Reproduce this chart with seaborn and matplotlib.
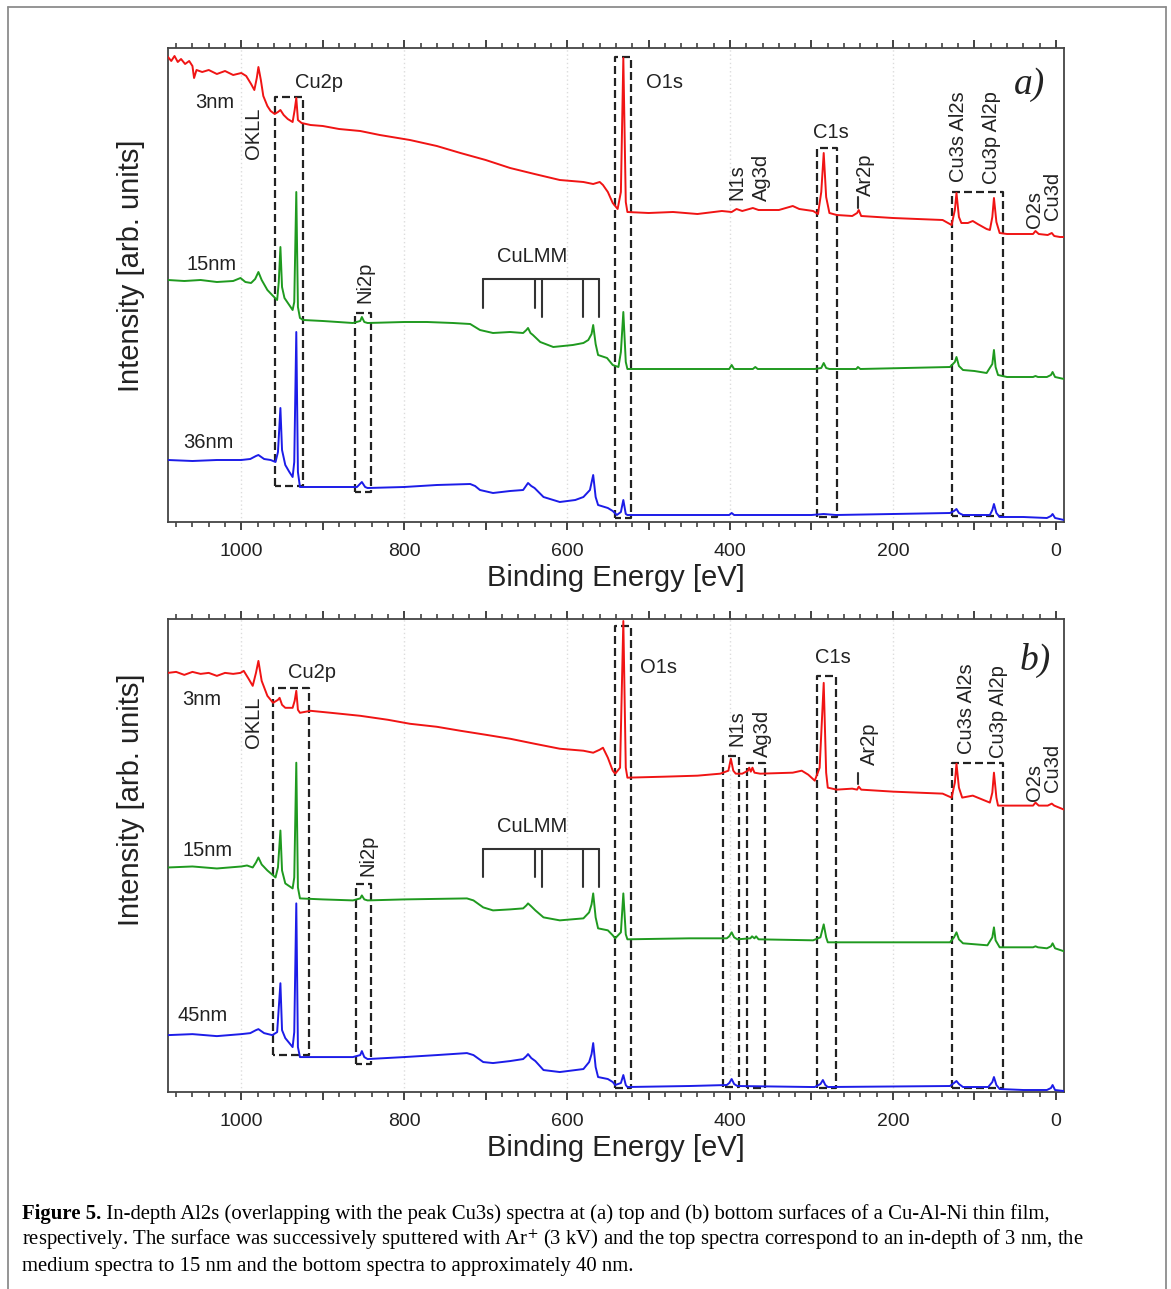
import numpy as np
import pandas as pd
import matplotlib
matplotlib.use("Agg")
import matplotlib.pyplot as plt
import seaborn as sns
from matplotlib.ticker import MultipleLocator, FuncFormatter
from matplotlib.lines import Line2D

# ---------------------------------------------------------------------------
# DATA  (binding energy [eV], intensity [arb. units])
# ---------------------------------------------------------------------------
# panel a) top surface
A_3NM = np.array([
    (1090, 465), (1086, 461), (1082, 466), (1078, 460), (1074, 463), (1069, 458),
    (1064, 461), (1060, 456), (1058, 444), (1055, 452), (1048, 450), (1040, 452),
    (1030, 448), (1020, 451), (1010, 447), (1000, 449), (994, 446), (988, 438),
    (984, 432), (981, 444), (979, 455), (976, 442), (973, 426), (968, 416),
    (964, 411), (959, 408), (955, 410), (952, 412), (948, 407), (943, 403),
    (937, 400), (934.5, 412), (932.5, 424), (930.5, 402), (926, 399), (915, 397),
    (900, 396), (880, 393), (854, 391), (830, 387), (793, 382), (760, 376),
    (731, 369), (700, 362), (670, 354), (640, 348), (609, 342), (580, 340),
    (568, 338), (560, 340), (556, 337), (550, 330), (544, 319), (538, 313),
    (534, 330), (531, 464), (528, 320), (526, 310), (500, 309), (470, 310),
    (440, 308), (410, 311), (398, 310), (392, 313), (385, 311), (372, 314),
    (365, 312), (340, 312), (323, 316), (315, 313), (298, 311), (292, 308),
    (288, 330), (285, 369), (282, 325), (278, 309), (269, 307), (250, 306),
    (244, 309), (242, 312), (239, 306), (200, 304), (170, 303), (139, 302),
    (128, 297), (124, 312), (122, 329), (119, 305), (116, 299), (108, 299),
    (102, 301), (96, 298), (85, 293), (81, 292), (78, 305), (76, 324),
    (73, 300), (69, 289), (60, 288), (40, 288), (28, 288), (25, 291),
    (21, 288), (10, 287), (5, 289), (2, 286), (-5, 285), (-10, 285)])

A_15NM = np.array([
    (1090, 242), (1070, 241), (1050, 242), (1030, 240), (1010, 241), (1001, 244),
    (995, 240), (988, 239), (983, 243), (979, 250), (975, 242), (968, 232),
    (961, 226), (956, 222), (954, 240), (952, 275), (950, 235), (947, 224),
    (942, 218), (937, 212), (935, 220), (932.5, 330), (930.5, 215), (928, 204),
    (924, 202), (900, 201), (863, 199), (854, 201), (852, 205), (849, 200),
    (845, 199), (800, 200), (772, 200), (740, 199), (719, 198), (713, 195),
    (707, 192), (691, 189), (670, 190), (654, 189), (650, 192), (648, 194),
    (645, 189), (642, 187), (633, 180), (617, 175), (593, 177), (580, 179),
    (574, 182), (570, 188), (568, 197), (565, 178), (562, 167), (551, 164),
    (544, 157), (537, 155), (534, 170), (531, 210), (528, 160), (526, 153),
    (450, 153), (401, 153), (398, 157), (395, 153), (372, 153), (369, 155),
    (366, 153), (296, 153), (288, 154), (285, 159), (282, 154), (278, 153),
    (245, 153), (243, 155), (240, 153), (130, 155), (124, 160), (122, 165),
    (119, 156), (114, 152), (100, 151), (85, 149), (78, 158), (76, 172),
    (74, 155), (71, 147), (60, 145), (28, 145), (25, 146), (22, 145),
    (11, 145), (6, 147), (4, 150), (1, 145), (-10, 143)])

A_36NM = np.array([
    (1090, 62), (1060, 61), (1030, 62), (1000, 62), (989, 63), (982, 66),
    (979, 67), (972, 63), (964, 62), (958, 60), (955, 70), (952, 114),
    (950, 72), (946, 57), (941, 50), (937, 45), (935, 60), (932.5, 190),
    (930.5, 50), (928, 35), (900, 35), (858, 35), (852, 40), (848, 35),
    (845, 34), (800, 35), (760, 37), (719, 38), (713, 36), (707, 32),
    (691, 29), (670, 31), (654, 32), (648, 39), (644, 36), (640, 34),
    (629, 25), (609, 20), (590, 22), (580, 25), (572, 32), (568, 47),
    (565, 25), (562, 17), (550, 14), (544, 11), (539, 7), (534, 10),
    (531, 22), (528, 8), (526, 7), (450, 7), (401, 7), (398, 9),
    (395, 7), (300, 7), (285, 8), (270, 7), (130, 9), (125, 11),
    (122, 13), (119, 9), (114, 7), (81, 7), (78, 12), (76, 18),
    (73, 9), (69, 5), (40, 5), (11, 4), (6, 6), (4, 8), (1, 4), (-10, 2)])

# panel b) bottom surface
B_3NM = np.array([
    (1090, 420), (1080, 421), (1070, 418), (1060, 421), (1050, 419), (1040, 420),
    (1030, 417), (1020, 420), (1010, 419), (1001, 420), (997, 422), (991, 414),
    (986, 407), (982, 420), (979, 432), (975, 412), (968, 397), (961, 390),
    (955, 393), (953, 395), (950, 388), (946, 385), (937, 385), (934.5, 392),
    (932.5, 402), (930.5, 383), (928, 380), (915, 382), (890, 380), (854, 377),
    (820, 373), (793, 369), (760, 366), (731, 362), (700, 358), (670, 354),
    (640, 349), (609, 344), (580, 342), (568, 340), (560, 343), (556, 345),
    (550, 335), (544, 322), (541, 319), (535, 325), (531, 472), (528, 325),
    (526, 315), (480, 316), (440, 317), (412, 319), (402, 322), (399, 334),
    (396, 322), (393, 319), (385, 319), (378, 322), (376.5, 325), (374.5, 321),
    (372.5, 325), (370, 320), (363, 319), (323, 320), (312, 322), (304, 318),
    (296, 312), (290, 325), (285, 410), (282, 320), (280, 305), (269, 303),
    (250, 304), (244, 303), (242, 306), (239, 303), (200, 301), (170, 300),
    (139, 299), (128, 295), (124, 310), (122, 329), (119, 305), (115, 295),
    (102, 297), (90, 293), (81, 290), (78, 300), (76, 320), (73, 295),
    (71, 287), (50, 287), (28, 287), (25, 290), (21, 287), (10, 287),
    (5, 289), (2, 287), (-10, 283)])

B_15NM = np.array([
    (1090, 225), (1060, 226), (1030, 224), (1000, 226), (993, 227), (986, 225),
    (982, 230), (979, 235), (975, 228), (968, 222), (958, 215), (955, 225),
    (952, 262), (950, 222), (946, 209), (937, 204), (935, 215), (932.5, 330),
    (930.5, 205), (928, 194), (900, 193), (863, 192), (854, 194), (852, 197),
    (849, 193), (845, 192), (800, 193), (723, 194), (715, 192), (703, 185),
    (691, 182), (670, 183), (654, 184), (650, 187), (648, 189), (644, 186),
    (639, 182), (629, 175), (609, 172), (580, 174), (573, 180), (570, 188),
    (568, 199), (565, 175), (562, 164), (550, 162), (544, 157), (541, 154),
    (534, 160), (531, 199), (528, 158), (526, 153), (450, 154), (404, 154),
    (401, 156), (398, 160), (395, 155), (391, 153), (375, 154), (373, 156),
    (370, 154), (368, 156), (365, 153), (298, 152), (289, 155), (285, 168),
    (282, 155), (280, 150), (200, 150), (130, 150), (125, 155), (122, 160),
    (119, 153), (114, 149), (84, 147), (78, 155), (76, 165), (74, 152),
    (69, 145), (28, 145), (25, 146), (22, 145), (11, 144), (6, 146),
    (4, 149), (1, 144), (-10, 141)])

B_45NM = np.array([
    (1090, 57), (1060, 58), (1030, 56), (1000, 58), (989, 59), (982, 62),
    (979, 63), (972, 59), (962, 57), (956, 60), (952, 109), (950, 62),
    (946, 54), (937, 45), (935, 60), (932.5, 189), (930.5, 45), (928, 35),
    (900, 35), (863, 35), (854, 37), (852, 41), (849, 35), (845, 33),
    (800, 35), (760, 37), (723, 39), (715, 37), (703, 30), (691, 29),
    (670, 31), (654, 33), (650, 36), (648, 38), (644, 34), (639, 31),
    (629, 22), (609, 20), (580, 23), (573, 30), (570, 38), (568, 49),
    (565, 25), (562, 15), (550, 13), (544, 10), (541, 7), (534, 9),
    (531, 17), (528, 7), (526, 5), (450, 6), (404, 7), (401, 9),
    (398, 13), (395, 8), (391, 6), (300, 5), (296, 5), (289, 8),
    (286, 12), (283, 7), (280, 5), (130, 6), (125, 9), (122, 11),
    (119, 8), (114, 5), (83, 5), (78, 10), (76, 15), (73, 7),
    (69, 3), (40, 2), (11, 2), (6, 4), (4, 7), (1, 2), (-10, 1)])

DEPTHS_A = ["3nm", "15nm", "36nm"]
DEPTHS_B = ["3nm", "15nm", "45nm"]
X_LABELED = [1000, 800, 600, 400, 200, 0]
CULMM_E = [703, 639, 631, 580, 561]
CAPTION = [
    ("Figure 5.", " In-depth Al2s (overlapping with the peak Cu3s) spectra at (a) top and (b) bottom surfaces of a Cu-Al-Ni thin film,"),
    ("", "respectively. The surface was successively sputtered with Ar$^{+}$ (3 kV) and the top spectra correspond to an in-depth of 3 nm, the"),
    ("", "medium spectra to 15 nm and the bottom spectra to approximately 40 nm."),
]

# ---------------------------------------------------------------------------
# STYLE / LAYOUT
# ---------------------------------------------------------------------------
sns.set_theme(style="white")
plt.rcParams["font.family"] = ["Liberation Sans", "DejaVu Sans"]
plt.rcParams["mathtext.fontset"] = "stix"

W, H = 1171, 1289
fig = plt.figure(figsize=(W / 100, H / 100), dpi=100)
fig.patch.set_facecolor("white")

COL = {"3nm": "#f01414", "15nm": "#1f9a1f", "36nm": "#1c1ce8", "45nm": "#1c1ce8"}
TXT = "#222222"
LAB_FS = 14.5


def make_df(arrs, names):
    parts = []
    for arr, nm in zip(arrs, names):
        parts.append(pd.DataFrame({"E": arr[:, 0], "I": arr[:, 1], "depth": nm}))
    return pd.concat(parts, ignore_index=True)


def style_axes(ax, ylab_y):
    ax.set_xlim(1090, -10)
    ax.set_ylim(0, 474)
    ax.xaxis.set_major_locator(MultipleLocator(100))
    ax.xaxis.set_minor_locator(MultipleLocator(20))
    ax.xaxis.set_major_formatter(FuncFormatter(
        lambda v, p: f"{int(round(v))}" if int(round(v)) in X_LABELED else ""))
    ax.tick_params(axis="x", which="major", direction="out", length=6, width=1.3,
                   color="#333333", top=True, bottom=True, labeltop=False,
                   labelsize=14, pad=9, labelcolor=TXT)
    ax.tick_params(axis="x", which="minor", direction="out", length=3.5, width=1.1,
                   color="#333333", top=True, bottom=True)
    ax.set_yticks([])
    for s in ax.spines.values():
        s.set_color("#444444")
        s.set_linewidth(1.3)
    for e in X_LABELED[:-1]:
        ax.axvline(e, color="#dcdcdc", ls=(0, (1, 2)), lw=1.0, zorder=0)
    ax.set_xlabel("Binding Energy [eV]", fontsize=21, labelpad=3, color=TXT)
    ax.set_ylabel("Intensity [arb. units]", fontsize=21, color=TXT)
    ax.yaxis.set_label_coords(-0.026, ylab_y)


def box(ax, e1, e2, i1, i2):
    ax.plot([e1, e1, e2, e2, e1], [i1, i2, i2, i1, i1], color="#222222",
            lw=1.6, ls=(0, (3.6, 1.8)), zorder=3)


def culmm(ax, ytop, yshort, ylong):
    ax.plot([CULMM_E[0], CULMM_E[-1]], [ytop, ytop], color="#333333", lw=1.5)
    for k, e in enumerate(CULMM_E):
        ax.plot([e, e], [ytop, yshort if k < 2 else ylong], color="#333333", lw=1.5)


def label(ax, s, e, i, rot=0):
    ax.text(e, i, s, ha="center", va="center", rotation=rot, fontsize=LAB_FS,
            color=TXT, zorder=5)


ax_a = fig.add_axes([168 / W, 1 - 522 / H, 896 / W, 474 / H])
ax_b = fig.add_axes([168 / W, 1 - 1092 / H, 896 / W, 473 / H])

# ---------------- panel a ----------------
df_a = make_df([A_3NM, A_15NM, A_36NM], DEPTHS_A)
sns.lineplot(data=df_a, x="E", y="I", hue="depth", palette=COL, sort=False,
             estimator=None, legend=False, linewidth=1.4, ax=ax_a, zorder=4)
style_axes(ax_a, 0.54)
for b in [(958.3, 923.9, 36, 425), (860, 840.5, 30, 209), (541, 521.5, 4, 465),
          (293, 269, 5, 374), (127.6, 65, 6, 330)]:
    box(ax_a, *b)
culmm(ax_a, 243, 214, 205)
ax_a.plot([243, 243], [314, 325], color="#333333", lw=1.5)
for s, e, i, r in [("3nm", 1032, 419, 0), ("OKLL", 985, 389, 90), ("Cu2p", 905, 440, 0),
                   ("O1s", 480, 439, 0), ("N1s", 391, 340, 90), ("Ag3d", 361, 345, 90),
                   ("C1s", 276, 390, 0), ("Ar2p", 234, 347, 90),
                   ("Cu3s Al2s", 119, 385, 90), ("Cu3p Al2p", 78.5, 384, 90),
                   ("O2s", 26, 312, 90), ("Cu3d", 4, 326, 90),
                   ("15nm", 1037, 257, 0), ("36nm", 1040, 80, 0),
                   ("Ni2p", 848, 240, 90), ("CuLMM", 643, 265, 0)]:
    label(ax_a, s, e, i, r)
ax_a.text(32, 437, "a)", ha="center", va="center", fontsize=27, style="italic",
          family=["Liberation Serif", "DejaVu Serif"], color=TXT)

# ---------------- panel b ----------------
df_b = make_df([B_3NM, B_15NM, B_45NM], DEPTHS_B)
sns.lineplot(data=df_b, x="E", y="I", hue="depth", palette=COL, sort=False,
             estimator=None, legend=False, linewidth=1.4, ax=ax_b, zorder=4)
style_axes(ax_b, 0.617)
for b in [(960.7, 916.6, 37, 405), (859, 840.5, 28, 208), (541, 521.5, 4, 467),
          (408.6, 389, 5, 337), (379, 357, 4, 330), (293, 270, 4, 417),
          (127.6, 65, 4, 330)]:
    box(ax_b, *b)
culmm(ax_b, 244, 215, 205)
ax_b.plot([243, 243], [309, 320], color="#333333", lw=1.5)
for s, e, i, r in [("3nm", 1048, 393, 0), ("OKLL", 985, 370, 90), ("Cu2p", 913, 420, 0),
                   ("O1s", 488, 425, 0), ("N1s", 391, 365, 90), ("Ag3d", 360, 359, 90),
                   ("C1s", 274, 435, 0), ("Ar2p", 229, 349, 90),
                   ("Cu3s Al2s", 110, 384, 90), ("Cu3p Al2p", 70, 381, 90),
                   ("O2s", 26, 310, 90), ("Cu3d", 4, 325, 90),
                   ("15nm", 1042, 242, 0), ("45nm", 1047, 77, 0),
                   ("Ni2p", 845, 237, 90), ("CuLMM", 643, 266, 0)]:
    label(ax_b, s, e, i, r)
ax_b.text(25, 432, "b)", ha="center", va="center", fontsize=27, style="italic",
          family=["Liberation Serif", "DejaVu Serif"], color=TXT)

# ---------------- outer frame ----------------
fc = "#8c8c8c"
fig.add_artist(Line2D([8 / W, 8 / W], [0, 1 - 7 / H], transform=fig.transFigure, color=fc, lw=1.3))
fig.add_artist(Line2D([1166 / W, 1166 / W], [0, 1 - 7 / H], transform=fig.transFigure, color=fc, lw=1.3))
fig.add_artist(Line2D([8 / W, 1166 / W], [1 - 7 / H, 1 - 7 / H], transform=fig.transFigure, color=fc, lw=1.3))

# ---------------- caption ----------------
renderer = fig.canvas.get_renderer()
SERIF = ["Liberation Serif", "DejaVu Serif"]


def twidth(s, size, weight="normal"):
    t = fig.text(0, 0, s, fontsize=size, fontweight=weight, family=SERIF)
    w = t.get_window_extent(renderer).width
    t.remove()
    return w


base = 14.0
w1 = twidth(CAPTION[0][0], base, "bold") + twidth(CAPTION[0][1], base)
cap_fs = base * (1038.0 / w1)
x0 = 22
for k, (bold, rest) in enumerate(CAPTION):
    yb = 1 - (1219 + 26 * k) / H
    x = x0
    if bold:
        tb = fig.text(x / W, yb, bold, fontsize=cap_fs, fontweight="bold",
                      family=SERIF, va="baseline", color="black")
        x += tb.get_window_extent(renderer).width
    fig.text(x / W, yb, rest, fontsize=cap_fs, family=SERIF, va="baseline", color="black")

fig.savefig("out.png", dpi=100, facecolor="white")
